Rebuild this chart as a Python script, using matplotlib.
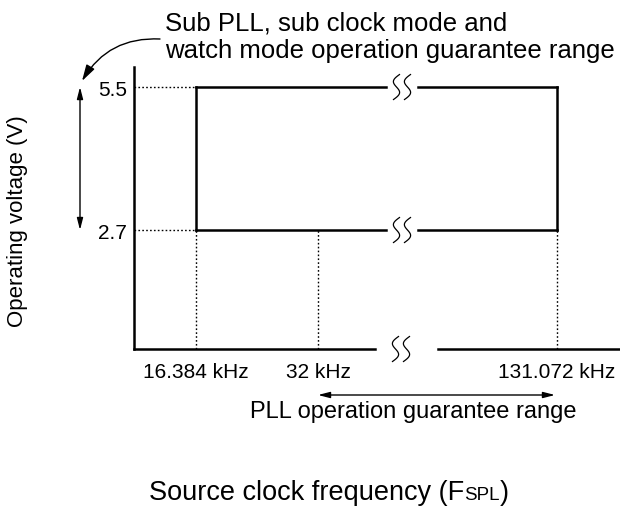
import numpy as np
import matplotlib
matplotlib.use("Agg")
import matplotlib.pyplot as plt
import matplotlib.transforms as mtransforms
from matplotlib.patches import FancyArrowPatch

plt.rcParams['font.family'] = ['Liberation Sans', 'DejaVu Sans']

# ---- data ----
volt_levels = [2.7, 5.5]
volt_labels = ["2.7", "5.5"]
freq_labels = ["16.384 kHz", "32 kHz", "131.072 kHz"]
freq_pos = [196, 318, 557]          # layout positions (pixels) of each frequency
break_pos = 402                     # position of the axis break

W, H = 620, 510
fig = plt.figure(figsize=(W / 100, H / 100), dpi=100)
ax = fig.add_axes([134 / W, (H - 350) / H, (W - 134) / W, (350 - 68) / H])
ax.set_xlim(134, 620)
ax.set_ylim(0.37, 5.892)
ax.patch.set_alpha(0)

for s in ['top', 'right', 'bottom']:
    ax.spines[s].set_visible(False)
ax.spines['left'].set_linewidth(1.8)

ax.set_yticks(volt_levels, volt_labels)
ax.set_xticks(freq_pos, freq_labels)
ax.tick_params(axis='both', length=0, labelsize=15)
ax.tick_params(axis='y', pad=5)
ax.tick_params(axis='x', pad=9)

lw = 1.8
ymin = ax.get_ylim()[0]
x_lo, x_hi = freq_pos[0], freq_pos[-1]
v_lo, v_hi = min(volt_levels), max(volt_levels)
gap_l, gap_r = break_pos - 16, break_pos + 16

# bottom (frequency) axis, broken
ax.plot([134, break_pos - 27], [ymin, ymin], color='black', lw=lw, clip_on=False,
        solid_capstyle='projecting')
ax.plot([break_pos + 36, 620], [ymin, ymin], color='black', lw=lw, clip_on=False)

# operating region rectangle (broken horizontally)
for v in volt_levels:
    ax.plot([x_lo, gap_l], [v, v], color='black', lw=lw, solid_capstyle='projecting')
    ax.plot([gap_r, x_hi], [v, v], color='black', lw=lw, solid_capstyle='projecting')
for x in [x_lo, x_hi]:
    ax.plot([x, x], [v_lo, v_hi], color='black', lw=lw, solid_capstyle='projecting')

# dotted guides
dot = (0, (1.2, 1.6))
for v in volt_levels:
    ax.plot([134, x_lo], [v, v], color='black', lw=1.0, ls=dot)
for x in freq_pos:
    ax.plot([x, x], [ymin, v_lo], color='black', lw=1.0, ls=dot)

# break symbols
def draw_break(xd, yd):
    cx, cy = ax.transData.transform((xd, yd))
    u = np.linspace(0, 1, 80)
    h, slant, amp = 25, 6, 4.5
    for off in (-5.5, 5.5):
        xs = cx + off + slant * (0.5 - u) - amp * np.sin(2 * np.pi * u)
        ys = cy + h / 2 - h * u
        ax.plot(xs, ys, color='black', lw=0.9, transform=mtransforms.IdentityTransform(),
                clip_on=False)

for v in volt_levels:
    draw_break(break_pos, v)
draw_break(break_pos - 1, ymin)

# pixel transform (origin at top-left)
pix = mtransforms.Affine2D().scale(1, -1).translate(0, H)

# vertical voltage range arrow
ax.annotate("", xy=(80, v_hi), xytext=(80, v_lo),
            xycoords=('figure pixels', 'data'), textcoords=('figure pixels', 'data'),
            arrowprops=dict(arrowstyle='<|-|>,head_length=0.7,head_width=0.18',
                            color='black', lw=1.0, shrinkA=0, shrinkB=0))

# curved arrow from annotation text
arr = FancyArrowPatch((160, 40), (82, 82), transform=pix,
                      connectionstyle='arc3,rad=0.3',
                      arrowstyle='-|>,head_length=0.7,head_width=0.2',
                      mutation_scale=14, color='black', lw=1.0,
                      shrinkA=0, shrinkB=0)
fig.add_artist(arr)

fig.text(165 / W, 1 - 23 / H, "Sub PLL, sub clock mode and", fontsize=18.5,
         ha='left', va='center')
fig.text(165 / W, 1 - 51 / H, "watch mode operation guarantee range", fontsize=18.5,
         ha='left', va='center')

# PLL range arrow
ax.annotate("", xy=(freq_pos[1], H - 396), xytext=(freq_pos[2] - 2, H - 396),
            xycoords=('data', 'figure pixels'), textcoords=('data', 'figure pixels'),
            arrowprops=dict(arrowstyle='<|-|>,head_length=0.7,head_width=0.18',
                            color='black', lw=1.0, shrinkA=0, shrinkB=0))

fig.text(413 / W, 1 - 412 / H, "PLL operation guarantee range", fontsize=17,
         ha='center', va='center')

fig.text(18 / W, 1 - 221 / H, "Operating voltage (V)", fontsize=16,
         rotation=90, ha='center', va='center')

# x-axis title with small-caps "SPL"
renderer = fig.canvas.get_renderer()
parts = [("Source clock frequency (F", 19.5), ("SPL", 13.5), (")", 19.5)]
texts = []
for s, fs in parts:
    texts.append(fig.text(0, 0, s, fontsize=fs, ha='left', va='baseline'))
widths = [t.get_window_extent(renderer).width for t in texts]
total = sum(widths)
x0 = 329 - total / 2
base_y = H - 500
for t, w in zip(texts, widths):
    t.set_position((x0 / W, base_y / H))
    x0 += w

fig.savefig("out.png", dpi=100)
